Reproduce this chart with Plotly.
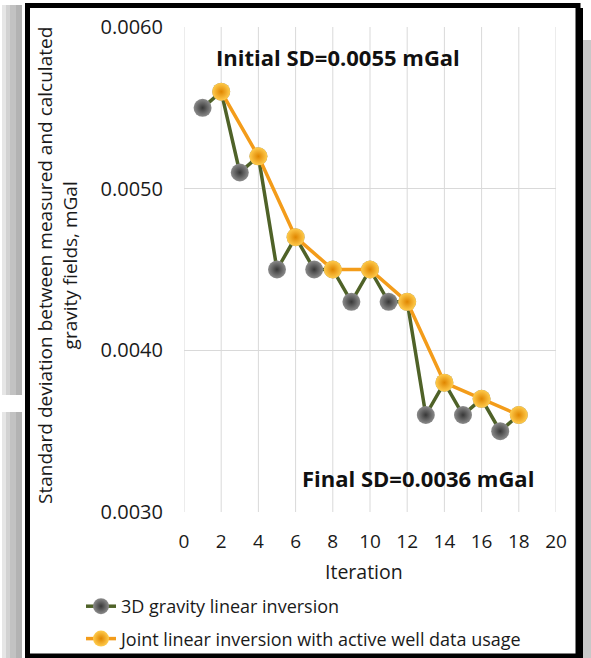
import plotly.graph_objects as go

# ---- data ----
iter_3d = [1, 2, 3, 4, 5, 6, 7, 8, 9, 10, 11, 12, 13, 14, 15, 16, 17, 18]
sd_3d = [0.0055, 0.0056, 0.0051, 0.0052, 0.0045, 0.0047, 0.0045, 0.0045, 0.0043,
         0.0045, 0.0043, 0.0043, 0.0036, 0.0038, 0.0036, 0.0037, 0.0035, 0.0036]
iter_joint = [2, 4, 6, 8, 10, 12, 14, 16, 18]
sd_joint = [0.0056, 0.0052, 0.0047, 0.0045, 0.0045, 0.0043, 0.0038, 0.0037, 0.0036]
name_3d = "3D gravity linear inversion"
name_joint = "Joint linear inversion with active well data usage"
x_ticks = list(range(0, 21, 2))
y_ticks = [0.003, 0.004, 0.005, 0.006]

W, H = 591, 658
L, R, T, B = 184, 556, 27, 512  # plot area in pixels


def px(xp):
    return (xp - L) / (R - L)


def py(yp):
    return (B - yp) / (B - T)


FONT = "Open Sans"
TXT = "#1a1a1a"

fig = go.Figure()
fig.add_trace(go.Scatter(
    x=iter_3d, y=sd_3d, name=name_3d, mode="lines+markers",
    line=dict(color="#4f6228", width=3.5),
    marker=dict(size=18, color="#8c8c8c",
                gradient=dict(type="radial", color="#383838"),
                line=dict(width=0)),
    legendgroup="a",
))
fig.add_trace(go.Scatter(
    x=iter_joint, y=sd_joint, name=name_joint, mode="lines+markers",
    line=dict(color="#f39c1a", width=3.5),
    marker=dict(size=18, color="#ffcc4d",
                gradient=dict(type="radial", color="#e08600"),
                line=dict(width=0)),
    legendgroup="b",
))

shapes = []
# vertical gridlines (every 2 iterations)
for xv in x_ticks:
    shapes.append(dict(type="line", xref="x", yref="y", layer="below",
                       x0=xv, x1=xv, y0=y_ticks[0], y1=y_ticks[-1],
                       line=dict(color="#d9d9d9", width=1)))
# left shadow strip (gradient imitation)
for x0, x1, c in [(2, 6, "#e6e6e6"), (6, 10, "#d2d2d2"), (10, 16, "#c2c2c2"),
                  (16, 22, "#b3b3b3")]:
    shapes.append(dict(type="rect", xref="paper", yref="paper", layer="below",
                       x0=px(x0), x1=px(x1), y0=py(395), y1=py(5),
                       fillcolor=c, line=dict(width=0)))
    shapes.append(dict(type="rect", xref="paper", yref="paper", layer="below",
                       x0=px(x0), x1=px(x1), y0=py(658), y1=py(412),
                       fillcolor=c, line=dict(width=0)))
# right bottom shadow
shapes.append(dict(type="rect", xref="paper", yref="paper", layer="below",
                   x0=px(583), x1=px(591), y0=py(658), y1=py(40),
                   fillcolor="#c8c8c8", line=dict(width=0)))
# black frame
shapes.append(dict(type="rect", xref="paper", yref="paper", layer="above",
                   x0=px(27.5), x1=px(578), y0=py(656), y1=py(5.5),
                   line=dict(color="black", width=5), fillcolor="rgba(0,0,0,0)"))
shapes.append(dict(type="rect", xref="paper", yref="paper", layer="above",
                   x0=px(576), x1=px(583), y0=py(658), y1=py(8),
                   fillcolor="black", line=dict(width=0)))

annotations = [
    dict(text="Initial SD=0.0055 mGal", xref="paper", yref="paper",
         x=px(338), y=py(57), showarrow=False, xanchor="center", yanchor="middle",
         font=dict(family=FONT, size=22, color="#111111", weight="bold")),
    dict(text="Final SD=0.0036 mGal", xref="paper", yref="paper",
         x=px(418), y=py(478), showarrow=False, xanchor="center", yanchor="middle",
         font=dict(family=FONT, size=22, color="#111111", weight="bold")),
    dict(text="Standard deviation between measured and calculated<br>gravity fields, mGal",
         xref="paper", yref="paper", x=px(57), y=py(266), showarrow=False,
         xanchor="center", yanchor="middle",
         textangle=-90, font=dict(family=FONT, size=19, color=TXT)),
    dict(text="Iteration", xref="paper", yref="paper",
         x=px(364), y=py(571), showarrow=False, xanchor="center", yanchor="middle",
         font=dict(family=FONT, size=19.5, color=TXT)),
]

fig.update_layout(
    width=W, height=H,
    margin=dict(l=L, r=W - R, t=T, b=H - B, autoexpand=False),
    paper_bgcolor="white", plot_bgcolor="white",
    font=dict(family=FONT, size=18, color=TXT),
    shapes=shapes, annotations=annotations,
    showlegend=True,
    legend=dict(x=px(81), y=py(588), xanchor="left", yanchor="top",
                font=dict(family=FONT, size=18, color=TXT),
                traceorder="grouped", tracegroupgap=6,
                bgcolor="rgba(0,0,0,0)", itemwidth=30),
    xaxis=dict(range=[0, 20], tickmode="linear", tick0=0, dtick=2,
               showgrid=False, zeroline=False, showline=False, ticks="",
               ticklabelstandoff=16, tickfont=dict(size=19)),
    yaxis=dict(range=[0.003, 0.006], tickmode="linear", tick0=0.003, dtick=0.001,
               tickformat=".4f", showgrid=True, gridcolor="#d9d9d9", gridwidth=1,
               zeroline=False, showline=False, ticks="", ticklabelstandoff=20,
               tickfont=dict(size=20)),
)

fig.write_html("out.html")
